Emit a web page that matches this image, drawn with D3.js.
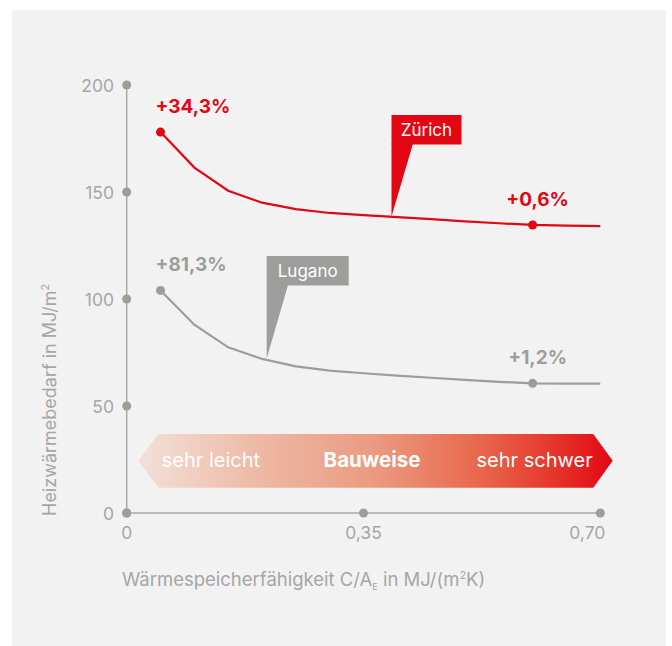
<!DOCTYPE html>
<html>
<head>
<meta charset="utf-8">
<script src="https://cdn.jsdelivr.net/npm/d3@7"></script>
<style>
  body { margin: 0; background: #fff; }
  svg text { font-family: Inter, Roboto, "Liberation Sans", Arial, sans-serif; }
</style>
</head>
<body>
<svg id="chart" width="672" height="646"></svg>
<script>
// data
var xValues = [0.05, 0.10, 0.15, 0.20, 0.25, 0.30, 0.35, 0.40, 0.45, 0.50, 0.55, 0.60, 0.65, 0.70]
var zurich = [178, 161.4, 150.6, 145, 142, 140.2, 139.2, 138.3, 137.3, 136.3, 135.4, 134.6, 134.3, 134.1]
var lugano = [104, 88, 77.4, 72, 68.5, 66.5, 65.3, 64.2, 63.2, 62.2, 61.3, 60.6, 60.5, 60.5]
var yTicks = [0, 50, 100, 150, 200]
var xTicks = [0, 0.35, 0.70]
var xTickLabels = ["0", "0,35", "0,70"]
var zurichLabels = ["+34,3%", "+0,6%"]
var luganoLabels = ["+81,3%", "+1,2%"]
var bandLabels = ["sehr leicht", "Bauweise", "sehr schwer"]

var red = "#e30613", grey = "#9d9d9c", axisGrey = "#a9a9a9", textGrey = "#a6a6a6"

var svg = d3.select("#chart")

// background panel
svg.append("rect")
    .attr("x", 12).attr("y", 10)
    .attr("width", 654).attr("height", 636)
    .attr("fill", "#f2f2f2")

var x = d3.scaleLinear().domain([0, 0.70]).range([126.7, 600.3])
var y = d3.scaleLinear().domain([0, 200]).range([513, 85])

// gradient band "Bauweise"
var defs = svg.append("defs")
var grad = defs.append("linearGradient").attr("id", "bandGrad")
    .attr("x1", "0%").attr("x2", "100%")
var stops = [[0, "#f2e1d9"], [0.25, "#eeb9a5"], [0.5, "#eb9a80"], [0.72, "#e8674c"], [0.88, "#e5352a"], [1, "#e30613"]]
stops.forEach(function (s) {
    grad.append("stop").attr("offset", s[0]).attr("stop-color", s[1])
})

var bandTop = 434, bandBottom = 487.7, bandMid = (bandTop + bandBottom) / 2
var bL = 138.3, bL2 = 158.3, bR2 = 593.3, bR = 612.7
svg.append("path")
    .attr("d", "M" + bL + "," + bandMid + "L" + bL2 + "," + bandTop + "L" + bR2 + "," + bandTop +
        "L" + bR + "," + bandMid + "L" + bR2 + "," + bandBottom + "L" + bL2 + "," + bandBottom + "Z")
    .attr("fill", "url(#bandGrad)")

svg.append("text").attr("x", 161.7).attr("y", 466.5).text(bandLabels[0])
    .attr("fill", "#fff").style("font-size", "20px")
svg.append("text").attr("x", 372).attr("y", 466.5).text(bandLabels[1])
    .attr("fill", "#fff").attr("text-anchor", "middle")
    .style("font-size", "20.5px").style("font-weight", "bold")
svg.append("text").attr("x", 592.7).attr("y", 466.5).text(bandLabels[2])
    .attr("fill", "#fff").attr("text-anchor", "end").style("font-size", "20px")

// axes
svg.append("line")
    .attr("x1", x(0)).attr("x2", x(0.70))
    .attr("y1", y(0)).attr("y2", y(0))
    .attr("stroke", axisGrey).attr("stroke-width", 1.5)
svg.append("line")
    .attr("x1", x(0)).attr("x2", x(0))
    .attr("y1", y(0)).attr("y2", y(200))
    .attr("stroke", axisGrey).attr("stroke-width", 1.5)

svg.selectAll(".ydot")
    .data(yTicks)
    .enter().append("circle")
    .attr("cx", x(0)).attr("cy", function (d) { return y(d) })
    .attr("r", 4.5).attr("fill", grey)

svg.selectAll(".ylab")
    .data(yTicks)
    .enter().append("text")
    .attr("x", 114).attr("y", function (d) { return y(d) + 6.5 })
    .attr("text-anchor", "end")
    .attr("fill", textGrey).style("font-size", "17.5px")
    .text(function (d) { return d })

svg.selectAll(".xdot")
    .data(xTicks)
    .enter().append("circle")
    .attr("cx", function (d) { return x(d) }).attr("cy", y(0))
    .attr("r", 4.5).attr("fill", grey)

svg.selectAll(".xlab")
    .data(xTicks)
    .enter().append("text")
    .attr("x", function (d, i) { return x(d) + (i == 2 ? -13 : 0) })
    .attr("y", 539)
    .attr("text-anchor", "middle")
    .attr("fill", textGrey).style("font-size", "17.5px")
    .text(function (d, i) { return xTickLabels[i] })

// axis titles
var xt = svg.append("text").attr("x", 122).attr("y", 586)
    .attr("fill", textGrey).style("font-size", "18.5px")
xt.append("tspan").text("Wärmespeicherfähigkeit C/A")
xt.append("tspan").attr("dy", 4).style("font-size", "9px").text("E")
xt.append("tspan").attr("dy", -4).text(" in MJ/(m")
xt.append("tspan").attr("dy", -7).style("font-size", "11px").text("2")
xt.append("tspan").attr("dy", 7).text("K)")

var yt = svg.append("text")
    .attr("transform", "translate(56,516) rotate(-90)")
    .attr("fill", textGrey).style("font-size", "18px")
yt.append("tspan").text("Heizwärmebedarf in MJ/m")
yt.append("tspan").attr("dy", -7).style("font-size", "11px").text("2")

// lines
var line = d3.line()
    .x(function (d) { return x(d[0]) })
    .y(function (d) { return y(d[1]) })

function drawSeries(values, color, labels) {
    var pts = xValues.map(function (v, i) { return [v, values[i]] })
    svg.append("path")
        .datum(pts)
        .attr("d", line)
        .attr("fill", "none")
        .attr("stroke", color).attr("stroke-width", 2.2)
    var marked = [pts[0], pts[11]]
    svg.selectAll(null)
        .data(marked)
        .enter().append("circle")
        .attr("cx", function (d) { return x(d[0]) })
        .attr("cy", function (d) { return y(d[1]) })
        .attr("r", 4.5).attr("fill", color)
    svg.selectAll(null)
        .data(marked)
        .enter().append("text")
        .attr("x", function (d, i) { return x(d[0]) + (i == 0 ? -5 : 5) })
        .attr("y", function (d) { return y(d[1]) - 19 })
        .attr("text-anchor", function (d, i) { return i == 0 ? "start" : "middle" })
        .attr("fill", color)
        .style("font-size", "19px").style("font-weight", "bold")
        .text(function (d, i) { return labels[i] })
}
drawSeries(zurich, red, zurichLabels)
drawSeries(lugano, grey, luganoLabels)

// callouts
function callout(name, color, tipX, tipValue, boxTop, boxW) {
    var tipY = y(tipValue)
    var boxH = 29.5
    svg.append("path")
        .attr("d", "M" + tipX + "," + (boxTop + boxH - 1) + "L" + (tipX + 21.5) + "," + (boxTop + boxH - 1) +
            "L" + tipX + "," + tipY + "Z")
        .attr("fill", color)
    svg.append("rect")
        .attr("x", tipX).attr("y", boxTop)
        .attr("width", boxW).attr("height", boxH)
        .attr("fill", color)
    svg.append("text")
        .attr("x", tipX + boxW / 2).attr("y", boxTop + 21)
        .attr("text-anchor", "middle")
        .attr("fill", "#fff").style("font-size", "17px")
        .text(name)
}
callout("Zürich", red, 391.5, 138.6, 115, 70)
callout("Lugano", grey, 266.7, 72.3, 256, 82)
</script>
</body>
</html>
